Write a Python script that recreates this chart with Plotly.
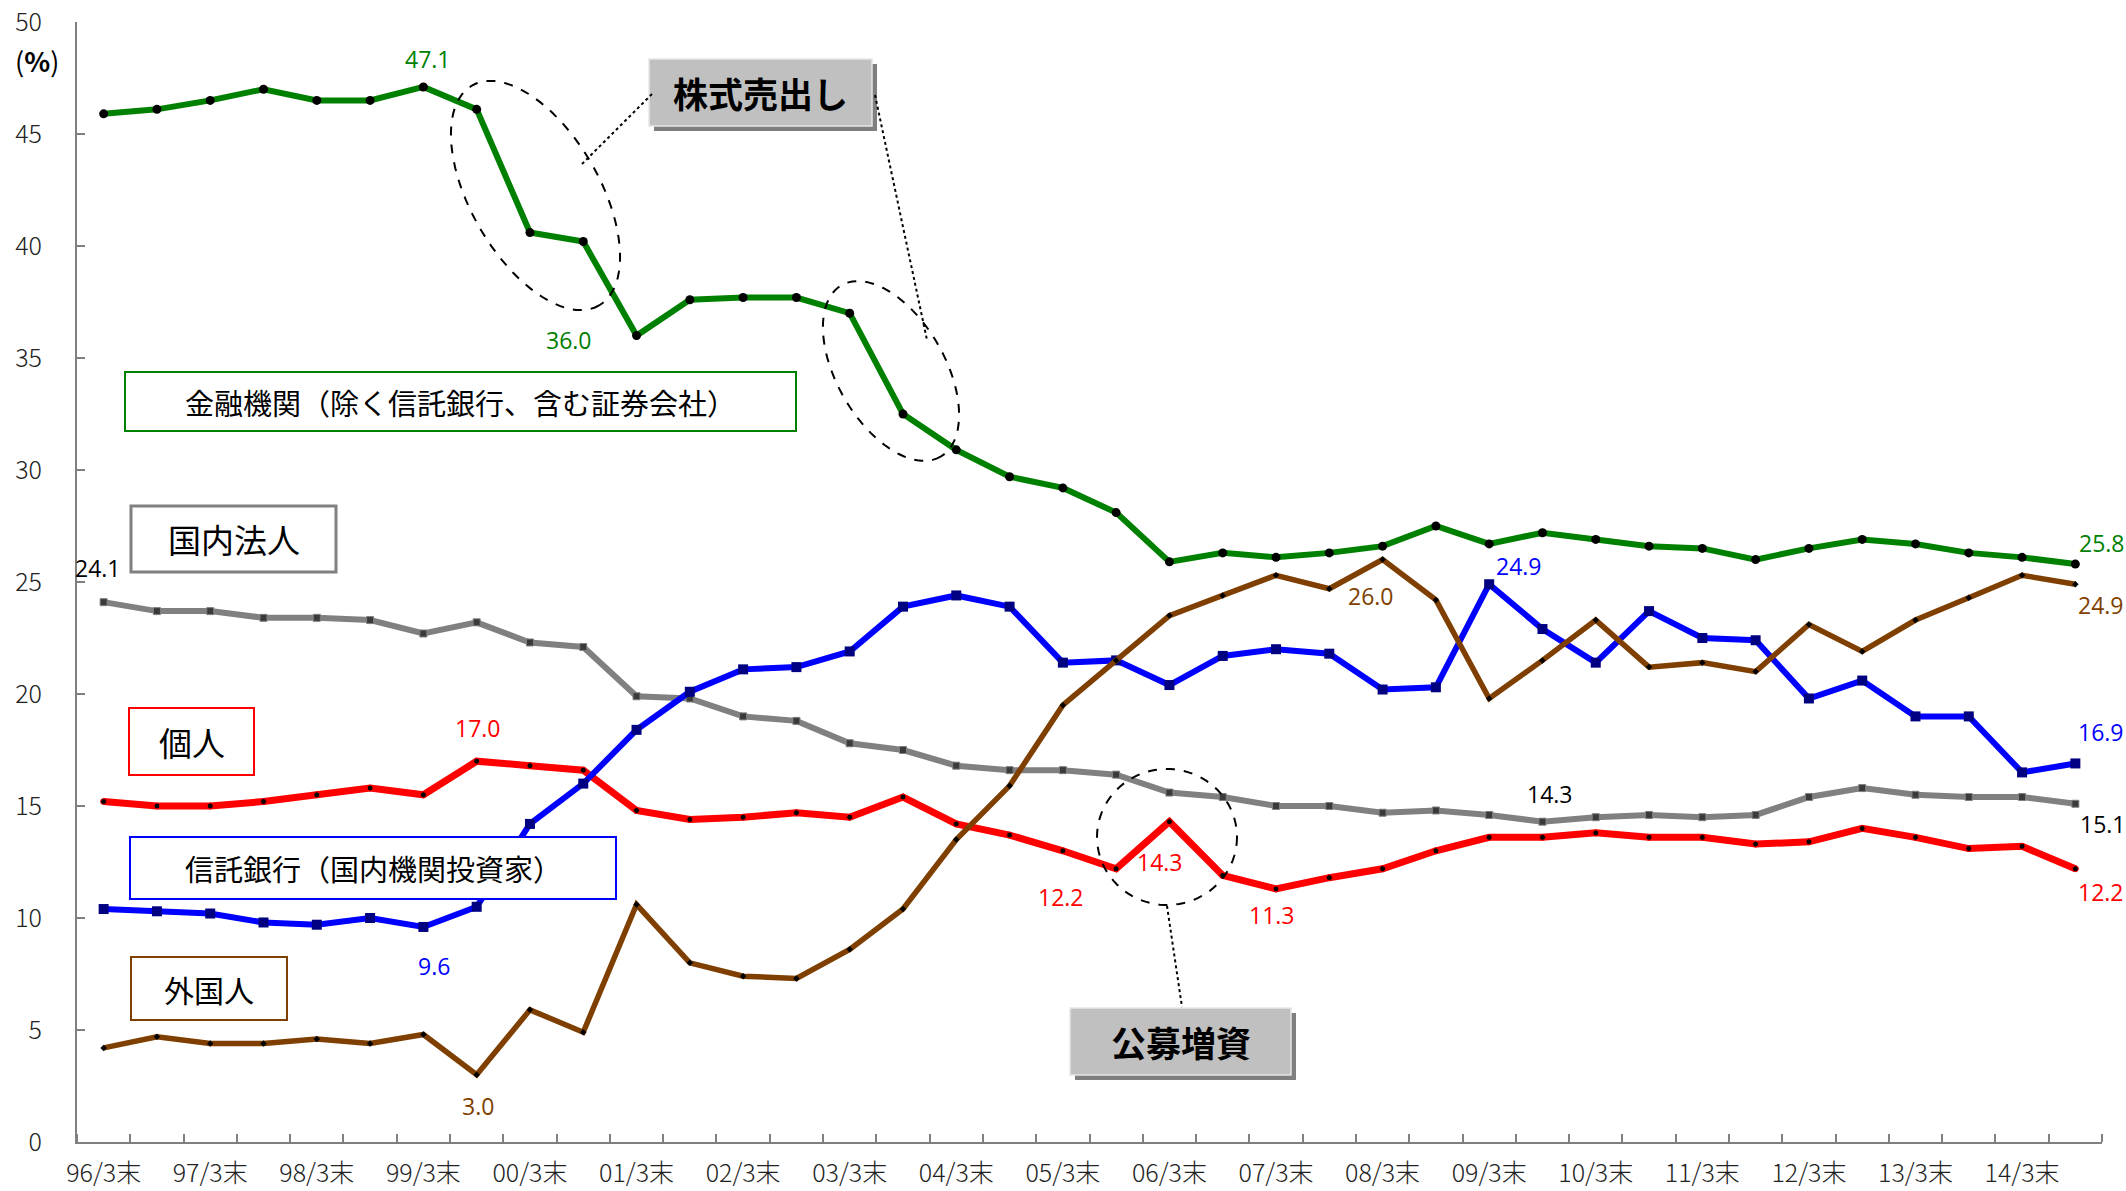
import math
import plotly.graph_objects as go

# ---------------- data ----------------
periods = ["96/3", "96/9", "97/3", "97/9", "98/3", "98/9", "99/3", "99/9", "00/3", "00/9",
           "01/3", "01/9", "02/3", "02/9", "03/3", "03/9", "04/3", "04/9", "05/3", "05/9",
           "06/3", "06/9", "07/3", "07/9", "08/3", "08/9", "09/3", "09/9", "10/3", "10/9",
           "11/3", "11/9", "12/3", "12/9", "13/3", "13/9", "14/3", "14/9"]

tick_labels = ["96/3末", "97/3末", "98/3末", "99/3末", "00/3末", "01/3末", "02/3末", "03/3末",
               "04/3末", "05/3末", "06/3末", "07/3末", "08/3末", "09/3末", "10/3末", "11/3末",
               "12/3末", "13/3末", "14/3末"]

financial = [45.9, 46.1, 46.5, 47.0, 46.5, 46.5, 47.1, 46.1, 40.6, 40.2,
             36.0, 37.6, 37.7, 37.7, 37.0, 32.5, 30.9, 29.7, 29.2, 28.1,
             25.9, 26.3, 26.1, 26.3, 26.6, 27.5, 26.7, 27.2, 26.9, 26.6,
             26.5, 26.0, 26.5, 26.9, 26.7, 26.3, 26.1, 25.8]

corporate = [24.1, 23.7, 23.7, 23.4, 23.4, 23.3, 22.7, 23.2, 22.3, 22.1,
             19.9, 19.8, 19.0, 18.8, 17.8, 17.5, 16.8, 16.6, 16.6, 16.4,
             15.6, 15.4, 15.0, 15.0, 14.7, 14.8, 14.6, 14.3, 14.5, 14.6,
             14.5, 14.6, 15.4, 15.8, 15.5, 15.4, 15.4, 15.1]

individual = [15.2, 15.0, 15.0, 15.2, 15.5, 15.8, 15.5, 17.0, 16.8, 16.6,
              14.8, 14.4, 14.5, 14.7, 14.5, 15.4, 14.2, 13.7, 13.0, 12.2,
              14.3, 11.9, 11.3, 11.8, 12.2, 13.0, 13.6, 13.6, 13.8, 13.6,
              13.6, 13.3, 13.4, 14.0, 13.6, 13.1, 13.2, 12.2]

trust = [10.4, 10.3, 10.2, 9.8, 9.7, 10.0, 9.6, 10.5, 14.2, 16.0,
         18.4, 20.1, 21.1, 21.2, 21.9, 23.9, 24.4, 23.9, 21.4, 21.5,
         20.4, 21.7, 22.0, 21.8, 20.2, 20.3, 24.9, 22.9, 21.4, 23.7,
         22.5, 22.4, 19.8, 20.6, 19.0, 19.0, 16.5, 16.9]

foreign = [4.2, 4.7, 4.4, 4.4, 4.6, 4.4, 4.8, 3.0, 5.9, 4.9,
           10.6, 8.0, 7.4, 7.3, 8.6, 10.4, 13.5, 15.9, 19.5, 21.5,
           23.5, 24.4, 25.3, 24.7, 26.0, 24.2, 19.8, 21.5, 23.3, 21.2,
           21.4, 21.0, 23.1, 21.9, 23.3, 24.3, 25.3, 24.9]

x = list(range(len(periods)))
tick_pos = [periods.index(t[:-1]) for t in tick_labels]

JP = "Noto Sans CJK JP"
NUM = "Open Sans"

# ---------------- geometry helpers (plot area in page pixels) ----------------
W, H = 2126, 1191
L, R, T, B = 77, 2102, 22, 1142
XMIN, XMAX, YMIN, YMAX = -0.5, len(periods) - 0.5, 0, 50


def dx(px):
    return XMIN + (px - L) * (XMAX - XMIN) / (R - L)


def dy(py):
    return YMIN + (B - py) * (YMAX - YMIN) / (B - T)


fig = go.Figure()

series = [
    ("金融機関", financial, "#008000", 6,
     dict(symbol="circle", size=9, color="black")),
    ("国内法人", corporate, "#808080", 6,
     dict(symbol="square", size=7, color="#3a3a3a", line=dict(color="#808080", width=1))),
    ("個人", individual, "#FF0000", 7,
     dict(symbol="circle", size=6, color="black", line=dict(color="#FF0000", width=1))),
    ("信託銀行", trust, "#0000FF", 6,
     dict(symbol="square", size=10, color="#000080")),
    ("外国人", foreign, "#7F3F00", 5.5,
     dict(symbol="diamond", size=5, color="black")),
]

for name, vals, col, lw, mk in series:
    fig.add_trace(go.Scatter(x=x, y=vals, mode="lines+markers", name=name,
                             line=dict(color=col, width=lw), marker=mk,
                             cliponaxis=False, showlegend=False))

# ---------------- data labels ----------------
labels = [
    (financial, 6, "#008000", 5, 28),
    (financial, 10, "#008000", -68, -4),
    (financial, 37, "#008000", 27, 21),
    (corporate, 0, "#000000", -6, 34),
    (corporate, 27, "#000000", 8, 28),
    (corporate, 37, "#000000", 28, -20),
    (individual, 7, "#FF0000", 1, 33),
    (individual, 19, "#FF0000", -55, -28),
    (individual, 20, "#FF0000", -9, -40),
    (individual, 22, "#FF0000", -4, -26),
    (individual, 37, "#FF0000", 26, -23),
    (trust, 6, "#0000FF", 11, -39),
    (trust, 26, "#0000FF", 30, 18),
    (trust, 37, "#0000FF", 26, 31),
    (foreign, 7, "#7F3F00", 1, -31),
    (foreign, 24, "#7F3F00", -12, -36),
    (foreign, 37, "#7F3F00", 26, -21),
]
for vals, i, col, xs, ys in labels:
    fig.add_annotation(x=i, y=vals[i], text=f"{vals[i]:.1f}", showarrow=False,
                       xshift=xs, yshift=ys, font=dict(family=NUM, size=23, color=col))

# ---------------- legend-like boxes ----------------
boxes = [
    ("金融機関（除く信託銀行、含む証券会社）", (125, 372, 796, 431), "#008000", 2, 29),
    ("国内法人", (131, 506, 336, 572), "#808080", 3, 33),
    ("個人", (129, 708, 254, 775), "#FF0000", 2, 33),
    ("信託銀行（国内機関投資家）", (130, 837, 616, 899), "#0000FF", 2, 29),
    ("外国人", (131, 957, 287, 1020), "#7F3F00", 2, 30),
]
for text, (x0, y0, x1, y1), col, bw, fs in boxes:
    fig.add_shape(type="rect", xref="x", yref="y", x0=dx(x0), x1=dx(x1), y0=dy(y0), y1=dy(y1),
                  line=dict(color=col, width=bw), fillcolor="white", layer="above")
    fig.add_annotation(x=dx((x0 + x1) / 2), y=dy((y0 + y1) / 2), text=text, showarrow=False,
                       font=dict(family=JP, size=fs, color="black"))

# ---------------- callouts ----------------
callouts = [
    ("株式売出し", (649, 59, 872, 126)),
    ("公募増資", (1070, 1008, 1291, 1075)),
]
for text, (x0, y0, x1, y1) in callouts:
    fig.add_shape(type="rect", xref="x", yref="y", x0=dx(x0 + 5), x1=dx(x1 + 5),
                  y0=dy(y0 + 5), y1=dy(y1 + 5), line=dict(width=0), fillcolor="#7f7f7f",
                  layer="above")
    fig.add_shape(type="rect", xref="x", yref="y", x0=dx(x0), x1=dx(x1), y0=dy(y0), y1=dy(y1),
                  line=dict(color="#e6e6e6", width=1.5), fillcolor="#C0C0C0", layer="above")
    fig.add_annotation(x=dx((x0 + x1) / 2), y=dy((y0 + y1) / 2), text=f"<b>{text}</b>",
                       showarrow=False, font=dict(family=JP, size=35, color="black"))


# ---------------- dashed ellipses ----------------
def ellipse_path(cx, cy, a, b, theta, n=90):
    th = math.radians(theta)
    pts = []
    for k in range(n):
        t = 2 * math.pi * k / n
        px = cx + a * math.cos(t) * math.cos(th) - b * math.sin(t) * math.sin(th)
        py = cy + a * math.cos(t) * math.sin(th) + b * math.sin(t) * math.cos(th)
        pts.append(f"{dx(px):.5f},{dy(py):.5f}")
    return "M " + " L ".join(pts) + " Z"


for cx, cy, a, b, th in [(535.5, 195.5, 127, 64.5, 60), (891, 371, 99, 54, 60),
                         (1167, 837, 70, 68, 0)]:
    fig.add_shape(type="path", xref="x", yref="y", path=ellipse_path(cx, cy, a, b, th),
                  line=dict(color="black", width=2, dash="dash"), layer="above")

# ---------------- dotted connectors ----------------
for (x0, y0), (x1, y1) in [((652, 94), (581, 165)), ((875, 95), (927, 340)),
                           ((1167, 906), (1182, 1007))]:
    fig.add_shape(type="line", xref="x", yref="y", x0=dx(x0), y0=dy(y0), x1=dx(x1), y1=dy(y1),
                  line=dict(color="black", width=2, dash="dot"), layer="above")

# unit label (paper coordinates, left of the plot area)
fig.add_annotation(xref="paper", yref="paper", x=(37 - L) / (R - L), y=(B - 61) / (B - T),
                   xanchor="center", yanchor="middle",
                   text="(<b>%</b>)", showarrow=False,
                   font=dict(family=JP, size=27, color="black"))

fig.update_layout(
    width=W, height=H,
    margin=dict(l=L, r=W - R, t=T, b=H - B, pad=0),
    paper_bgcolor="white", plot_bgcolor="white",
    xaxis=dict(range=[XMIN, XMAX], tickmode="array", tickvals=tick_pos, ticktext=tick_labels,
               ticks="", showline=True, linecolor="#808080", linewidth=2,
               showgrid=False, zeroline=False, automargin=False, ticklabelstandoff=8,
               tickfont=dict(family=JP, size=25, color="#222222", weight=300),
               minor=dict(tickmode="array", tickvals=[i - 0.5 for i in range(len(periods) + 1)],
                          ticks="inside", ticklen=8, tickcolor="#808080", tickwidth=1.5,
                          showgrid=False)),
    yaxis=dict(range=[YMIN, YMAX], tickmode="linear", tick0=0, dtick=5,
               ticks="inside", ticklen=8, tickcolor="#808080", tickwidth=1.5,
               showline=True, linecolor="#808080", linewidth=2,
               showgrid=False, zeroline=False, automargin=False, ticklabelstandoff=28,
               tickfont=dict(family=JP, size=25, color="#222222", weight=300)),
)

fig.write_html("out.html", config={"displayModeBar": False},
               post_script="document.body.style.margin='0';")
